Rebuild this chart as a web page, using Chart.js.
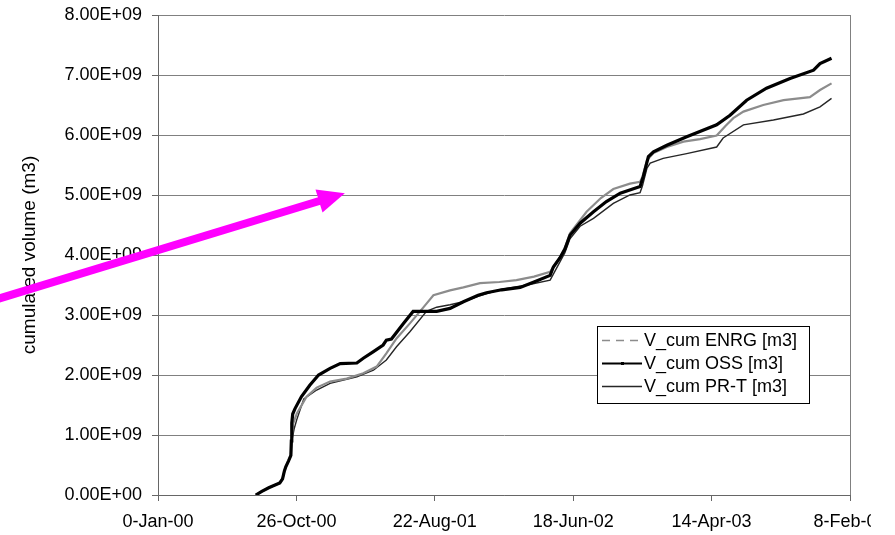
<!DOCTYPE html>
<html>
<head>
<meta charset="utf-8">
<script src="https://cdn.jsdelivr.net/npm/chart.js@4.4.1/dist/chart.umd.min.js"></script>
<style>
  html, body { margin: 0; padding: 0; background: #fff; }
  canvas { display: block; }
</style>
</head>
<body>
<canvas id="c" width="871" height="535"></canvas>
<script>
// ---- Data (x = days on the Excel serial axis, y = cumulated volume in m3 / 1e9) ----
const xTickLabels = ['0-Jan-00', '26-Oct-00', '22-Aug-01', '18-Jun-02', '14-Apr-03', '8-Feb-04'];
const yTickLabels = ['0.00E+00', '1.00E+09', '2.00E+09', '3.00E+09', '4.00E+09', '5.00E+09', '6.00E+09', '7.00E+09', '8.00E+09'];
const seriesNames = ['V_cum ENRG [m3]', 'V_cum OSS [m3]', 'V_cum PR-T [m3]'];

const ossDays = [212, 225, 240, 255, 264, 270, 274, 277, 283, 288, 289, 290, 292, 297, 311, 329, 348, 373, 395, 431, 445, 467, 488, 495, 506, 532, 553, 582, 604, 633, 662, 694, 712, 745, 785, 815, 850, 857, 871, 882, 893, 915, 944, 972, 1002, 1045, 1052, 1063, 1074, 1103, 1146, 1211, 1240, 1276, 1319, 1370, 1421, 1435, 1460];
const ossVals = [0, 0.06, 0.12, 0.17, 0.2, 0.27, 0.4, 0.47, 0.57, 0.66, 0.9, 1.2, 1.35, 1.44, 1.64, 1.83, 2.0, 2.11, 2.19, 2.2, 2.28, 2.39, 2.5, 2.58, 2.6, 2.86, 3.06, 3.06, 3.06, 3.11, 3.22, 3.33, 3.37, 3.42, 3.46, 3.55, 3.66, 3.8, 3.95, 4.1, 4.33, 4.53, 4.72, 4.89, 5.03, 5.14, 5.31, 5.64, 5.72, 5.83, 5.97, 6.17, 6.33, 6.58, 6.78, 6.94, 7.08, 7.19, 7.28];

const enrgDays = [212, 225, 240, 255, 264, 270, 274, 277, 283, 288, 290, 293, 301, 322, 344, 373, 409, 445, 474, 495, 517, 546, 568, 582, 597, 633, 662, 698, 740, 777, 815, 850, 857, 871, 882, 893, 929, 960, 987, 1023, 1045, 1050, 1060, 1074, 1103, 1139, 1175, 1211, 1230, 1247, 1269, 1312, 1356, 1413, 1435, 1460];
const enrgVals = [0, 0.06, 0.12, 0.17, 0.2, 0.27, 0.4, 0.47, 0.57, 0.66, 0.95, 1.19, 1.36, 1.64, 1.79, 1.89, 1.94, 2.03, 2.14, 2.36, 2.61, 2.86, 3.06, 3.19, 3.33, 3.41, 3.46, 3.53, 3.55, 3.58, 3.64, 3.72, 3.8, 3.95, 4.12, 4.36, 4.72, 4.95, 5.1, 5.19, 5.22, 5.3, 5.58, 5.7, 5.8, 5.89, 5.93, 5.99, 6.15, 6.28, 6.39, 6.5, 6.58, 6.63, 6.75, 6.86];

const prtDays = [212, 225, 240, 255, 264, 270, 274, 277, 283, 288, 290, 295, 301, 316, 344, 373, 431, 467, 495, 517, 546, 582, 604, 633, 662, 694, 740, 800, 850, 857, 871, 882, 893, 915, 944, 987, 1023, 1045, 1050, 1060, 1067, 1095, 1146, 1211, 1225, 1269, 1334, 1399, 1435, 1460];
const prtVals = [0, 0.06, 0.12, 0.17, 0.2, 0.27, 0.4, 0.47, 0.57, 0.66, 0.9, 1.1, 1.26, 1.6, 1.75, 1.86, 1.97, 2.08, 2.25, 2.47, 2.72, 3.06, 3.13, 3.17, 3.22, 3.31, 3.42, 3.5, 3.58, 3.68, 3.88, 4.04, 4.27, 4.48, 4.61, 4.86, 5.0, 5.04, 5.15, 5.45, 5.53, 5.61, 5.69, 5.8, 5.95, 6.17, 6.25, 6.35, 6.47, 6.61];

// magenta annotation arrow, in data units (days, 1e9 m3): [start, tip]
const arrowDays = [-342, 405];
const arrowVals = [3.28, 5.03];

const SCALE = 1e9;
function pts(days, vals) { return days.map((d, i) => ({ x: d, y: vals[i] * SCALE })); }

const styles = [
  { color: '#8c8c8c', width: 2.2, legendDash: [8, 6] },
  { color: '#000000', width: 3.2, legendDash: [] },
  { color: '#262626', width: 1.4, legendDash: [] }
];

const insideLegend = {
  id: 'insideLegend',
  beforeDatasetsDraw(chart) {
    const { ctx, chartArea } = chart;
    ctx.save();
    ctx.strokeStyle = '#808080';
    ctx.lineWidth = 1;
    ctx.beginPath();
    ctx.moveTo(Math.round(chartArea.right) + 0.5, chartArea.top);
    ctx.lineTo(Math.round(chartArea.right) + 0.5, chartArea.bottom);
    ctx.stroke();
    ctx.restore();
  },
  afterDraw(chart) {
    const { ctx } = chart;
    // legend box
    const bx = 597, by = 326, bw = 212, bh = 77;
    ctx.save();
    ctx.fillStyle = '#fff';
    ctx.fillRect(bx, by, bw, bh);
    ctx.strokeStyle = '#000';
    ctx.lineWidth = 1;
    ctx.strokeRect(bx + 0.5, by + 0.5, bw, bh);
    ctx.font = '18px "Liberation Sans", Arial, sans-serif';
    ctx.textBaseline = 'middle';
    ctx.fillStyle = '#000';
    chart.data.datasets.forEach((ds, i) => {
      const y = by + 14 + i * 23;
      const st = styles[i];
      ctx.strokeStyle = st.color;
      ctx.lineWidth = i === 1 ? 2 : 1.5;
      ctx.setLineDash(st.legendDash);
      ctx.beginPath();
      ctx.moveTo(bx + 5, y + 0.5);
      ctx.lineTo(bx + 45, y + 0.5);
      ctx.stroke();
      ctx.setLineDash([]);
      if (i === 1) { ctx.fillStyle = '#000'; ctx.fillRect(bx + 24, y - 1, 3, 3); }
      ctx.fillStyle = '#000';
      ctx.fillText(ds.label, bx + 47, y + 1);
    });
    // arrow annotation
    const xs = chart.scales.x, ys = chart.scales.y;
    const x0 = xs.getPixelForValue(arrowDays[0]), y0 = ys.getPixelForValue(arrowVals[0] * SCALE);
    const x1 = xs.getPixelForValue(arrowDays[1]), y1 = ys.getPixelForValue(arrowVals[1] * SCALE);
    const dx = x1 - x0, dy = y1 - y0, L = Math.hypot(dx, dy);
    const ux = dx / L, uy = dy / L, nx = -uy, ny = ux;
    const headLen = 27, headW = 12;
    const bxp = x1 - ux * headLen, byp = y1 - uy * headLen;
    ctx.strokeStyle = '#ff00ff';
    ctx.fillStyle = '#ff00ff';
    ctx.lineWidth = 8;
    ctx.lineCap = 'butt';
    ctx.beginPath();
    ctx.moveTo(x0 - ux * 10, y0 - uy * 10);
    ctx.lineTo(bxp + ux * 2, byp + uy * 2);
    ctx.stroke();
    ctx.beginPath();
    ctx.moveTo(x1, y1);
    ctx.lineTo(bxp + nx * headW, byp + ny * headW);
    ctx.lineTo(bxp - nx * headW, byp - ny * headW);
    ctx.closePath();
    ctx.fill();
    ctx.restore();
  }
};

Chart.defaults.font.family = '"Liberation Sans", Arial, sans-serif';
Chart.defaults.color = '#000';

new Chart(document.getElementById('c'), {
  type: 'scatter',
  data: {
    datasets: [
      { label: seriesNames[0], data: pts(enrgDays, enrgVals) },
      { label: seriesNames[1], data: pts(ossDays, ossVals) },
      { label: seriesNames[2], data: pts(prtDays, prtVals) }
    ].map((d, i) => Object.assign(d, {
      showLine: true, borderColor: styles[i].color, backgroundColor: styles[i].color,
      borderWidth: styles[i].width, pointRadius: 0, tension: 0, order: i === 1 ? 0 : 1
    }))
  },
  options: {
    responsive: false,
    animation: false,
    events: [],
    layout: { padding: { left: 15, top: 15, right: 21, bottom: 0 } },
    plugins: { legend: { display: false }, tooltip: { enabled: false } },
    scales: {
      x: {
        type: 'linear', min: 0, max: 1500,
        ticks: { stepSize: 300, font: { size: 18 }, padding: 10, maxRotation: 0, autoSkip: false,
                 callback: (v, i) => xTickLabels[i] },
        grid: { drawOnChartArea: false, drawTicks: true, tickLength: 6, color: '#666', tickColor: '#666' },
        border: { color: '#666', width: 1 },
        afterFit: s => { s.height = 40; s.paddingLeft = 0; s.paddingRight = 0; }
      },
      y: {
        min: 0, max: 8e9,
        ticks: { stepSize: 1e9, font: { size: 18 }, padding: 10,
                 callback: (v, i) => yTickLabels[i] },
        grid: { color: '#808080', tickLength: 6, tickColor: '#666' },
        border: { color: '#666', width: 1 },
        title: { display: true, text: 'cumulated volume (m3)', font: { size: 19 }, padding: { top: 3, bottom: 4 } },
        afterFit: s => { s.width = 143; s.paddingTop = 0; s.paddingBottom = 0; }
      }
    }
  },
  plugins: [insideLegend]
});
</script>
</body>
</html>
